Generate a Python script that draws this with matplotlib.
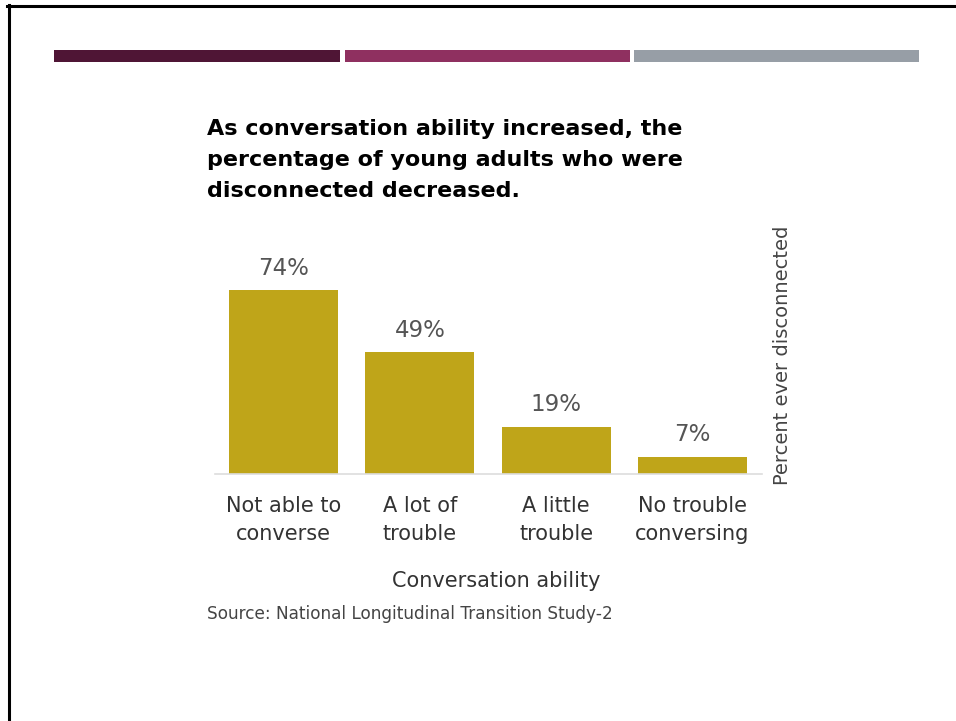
import matplotlib.pyplot as plt
from matplotlib.patches import Rectangle
from matplotlib.lines import Line2D

categories = ["Not able to\nconverse", "A lot of\ntrouble", "A little\ntrouble", "No trouble\nconversing"]
percent_disconnected = [74, 49, 19, 7]

title = ("As conversation ability increased, the\n"
         "percentage of young adults who were\n"
         "disconnected decreased.")
source = "Source: National Longitudinal Transition Study-2"

W, H = 956, 721
fig = plt.figure(figsize=(W / 100, H / 100), dpi=100)
fig.patch.set_facecolor("white")

def fx(px):
    return px / W

def fy(py):
    return 1 - py / H

# slide frame: top and left edges
fig.add_artist(Line2D([fx(7), fx(W)], [fy(5.5), fy(5.5)], color="black", lw=2.2))
fig.add_artist(Line2D([fx(8.5), fx(8.5)], [fy(4.5), 0], color="black", lw=2.2))

# header strip
for x0, x1, c in [(54, 340, "#4f1535"), (345, 630, "#8f3060"), (634, 919, "#979ea6")]:
    fig.add_artist(Rectangle((fx(x0), fy(62)), fx(x1 - x0), 12 / H,
                             transform=fig.transFigure, color=c, lw=0))

# chart axes
ax = fig.add_axes([fx(215), fy(474), fx(547), 248 / H])
x = range(len(categories))
bars = ax.bar(x, percent_disconnected, width=0.8, color="#bfa519")
ax.set_xlim(-0.5026, 3.5104)
ax.set_ylim(0, 100)

for b, v in zip(bars, percent_disconnected):
    ax.annotate(f"{v}%", (b.get_x() + b.get_width() / 2, v), xytext=(0, 11.5),
                textcoords="offset points", ha="center", va="baseline",
                fontsize=16.5, color="#555555")

for s in ["top", "left", "right"]:
    ax.spines[s].set_visible(False)
ax.spines["bottom"].set_color("#dddddd")
ax.spines["bottom"].set_linewidth(1.2)
ax.set_yticks([])
ax.set_xticks(list(x))
ax.set_xticklabels(categories, fontsize=15, color="#333333", linespacing=1.5)
ax.tick_params(axis="x", length=0, pad=16)

ax.set_xlabel("Conversation ability", fontsize=15, color="#333333")
ax.xaxis.set_label_coords((496 - 215) / 547, -97 / 248)

fig.text(fx(782), fy(355), "Percent ever disconnected", rotation=90,
         ha="center", va="center", fontsize=14, color="#444444")

fig.text(fx(207), fy(119), title, ha="left", va="top", fontsize=16,
         fontweight="bold", color="black", linespacing=1.68)
fig.text(fx(207), fy(619), source, ha="left", va="baseline", fontsize=12.2,
         color="#444444")

fig.savefig("out.png", dpi=100)
